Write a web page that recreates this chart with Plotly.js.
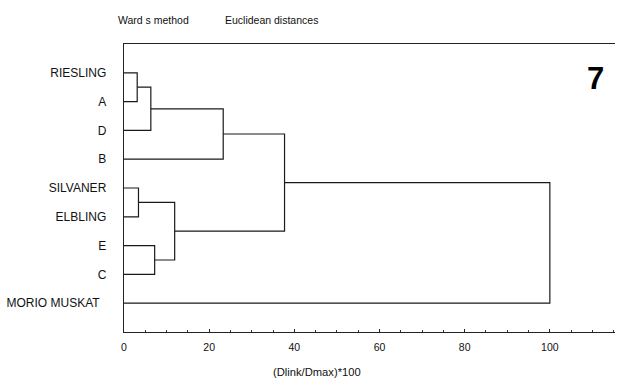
<!DOCTYPE html>
<html>
<head>
<meta charset="utf-8">
<script src="https://cdn.plot.ly/plotly-3.0.1.min.js"></script>
<style>
  html, body { margin: 0; padding: 0; background: #fff; }
  #chart { width: 617px; height: 378px; }
</style>
</head>
<body>
<div id="chart"></div>
<script>
// Leaves in dendrogram order, top to bottom
const leaves = ['RIESLING', 'A', 'D', 'B', 'SILVANER', 'ELBLING', 'E', 'C', 'MORIO MUSKAT'];

// Linkage table: indices < leaves.length are leaves, others are earlier merges
// (merge k gets index leaves.length + k)
const mergeLeft   = [0, 4, 9, 6, 10, 11, 14, 15];
const mergeRight  = [1, 5, 2, 7, 12, 3, 13, 8];
const mergeHeight = [3.1, 3.4, 6.3, 7.2, 11.9, 23.3, 37.7, 100];

const xTicks = [0, 20, 40, 60, 80, 100];

// Position and height of every node (leaves sit at height 0)
const nodeY = leaves.map((_, i) => i + 1);
const nodeX = leaves.map(() => 0);
const segX = [], segY = [];
mergeHeight.forEach((h, k) => {
  const a = mergeLeft[k], b = mergeRight[k];
  segX.push(nodeX[a], h, h, nodeX[b], null);
  segY.push(nodeY[a], nodeY[a], nodeY[b], nodeY[b], null);
  nodeX.push(h);
  nodeY.push((nodeY[a] + nodeY[b]) / 2);
});

const FONT = 'Liberation Sans, Arial, sans-serif';

// The last leaf label sits a little further from the axis than the others
const leafText = leaves.map((s, i) => i === leaves.length - 1 ? s + '\u00a0\u00a0' : s);

const data = [{
  type: 'scatter',
  mode: 'lines',
  x: segX,
  y: segY,
  line: { color: '#1a1a1a', width: 1.2 },
  hoverinfo: 'skip',
  showlegend: false
}];

const layout = {
  width: 617,
  height: 378,
  margin: { l: 124, r: 2, t: 44, b: 46 },
  paper_bgcolor: '#ffffff',
  plot_bgcolor: '#ffffff',
  font: { family: FONT, color: '#111' },
  xaxis: {
    range: [0, 115.3],
    tickvals: xTicks,
    ticktext: xTicks.map(String),
    ticks: 'inside',
    ticklen: 3,
    tickcolor: '#222',
    tickfont: { size: 10.5, family: FONT, color: '#111' },
    ticklabelstandoff: 5,
    minor: { dtick: 5, ticks: 'inside', ticklen: 2, tickcolor: '#333' },
    showgrid: false,
    zeroline: false,
    showline: true,
    mirror: true,
    linecolor: '#222',
    linewidth: 1.3,
    fixedrange: true
  },
  yaxis: {
    range: [10, 0],
    tickvals: leaves.map((_, i) => i + 1),
    ticktext: leafText,
    ticks: '',
    tickfont: { size: 12, family: FONT, color: '#111' },
    ticklabelstandoff: 14,
    showgrid: false,
    zeroline: false,
    showline: true,
    linecolor: '#222',
    linewidth: 1.3,
    fixedrange: true
  },
  annotations: [
    {
      text: 'Ward s method', xref: 'paper', yref: 'paper',
      x: -8 / 491, y: 1 + 24 / 288, xanchor: 'left', yanchor: 'middle',
      showarrow: false, font: { size: 10.5, family: FONT, color: '#111' }
    },
    {
      text: 'Euclidean distances', xref: 'paper', yref: 'paper',
      x: 99 / 491, y: 1 + 24 / 288, xanchor: 'left', yanchor: 'middle',
      showarrow: false, font: { size: 10.5, family: FONT, color: '#111' }
    },
    {
      text: '<b>7</b>', xref: 'paper', yref: 'paper',
      x: 471 / 491, y: 1 - 34 / 288, xanchor: 'center', yanchor: 'middle',
      showarrow: false, font: { size: 31, family: FONT, color: '#000' }
    },
    {
      text: '(Dlink/Dmax)*100', xref: 'x', yref: 'paper',
      x: 45.3, y: -40 / 288, xanchor: 'center', yanchor: 'middle',
      showarrow: false, font: { size: 11.2, family: FONT, color: '#111' }
    }
  ]
};

Plotly.newPlot('chart', data, layout, { displayModeBar: false, staticPlot: true });
</script>
</body>
</html>
